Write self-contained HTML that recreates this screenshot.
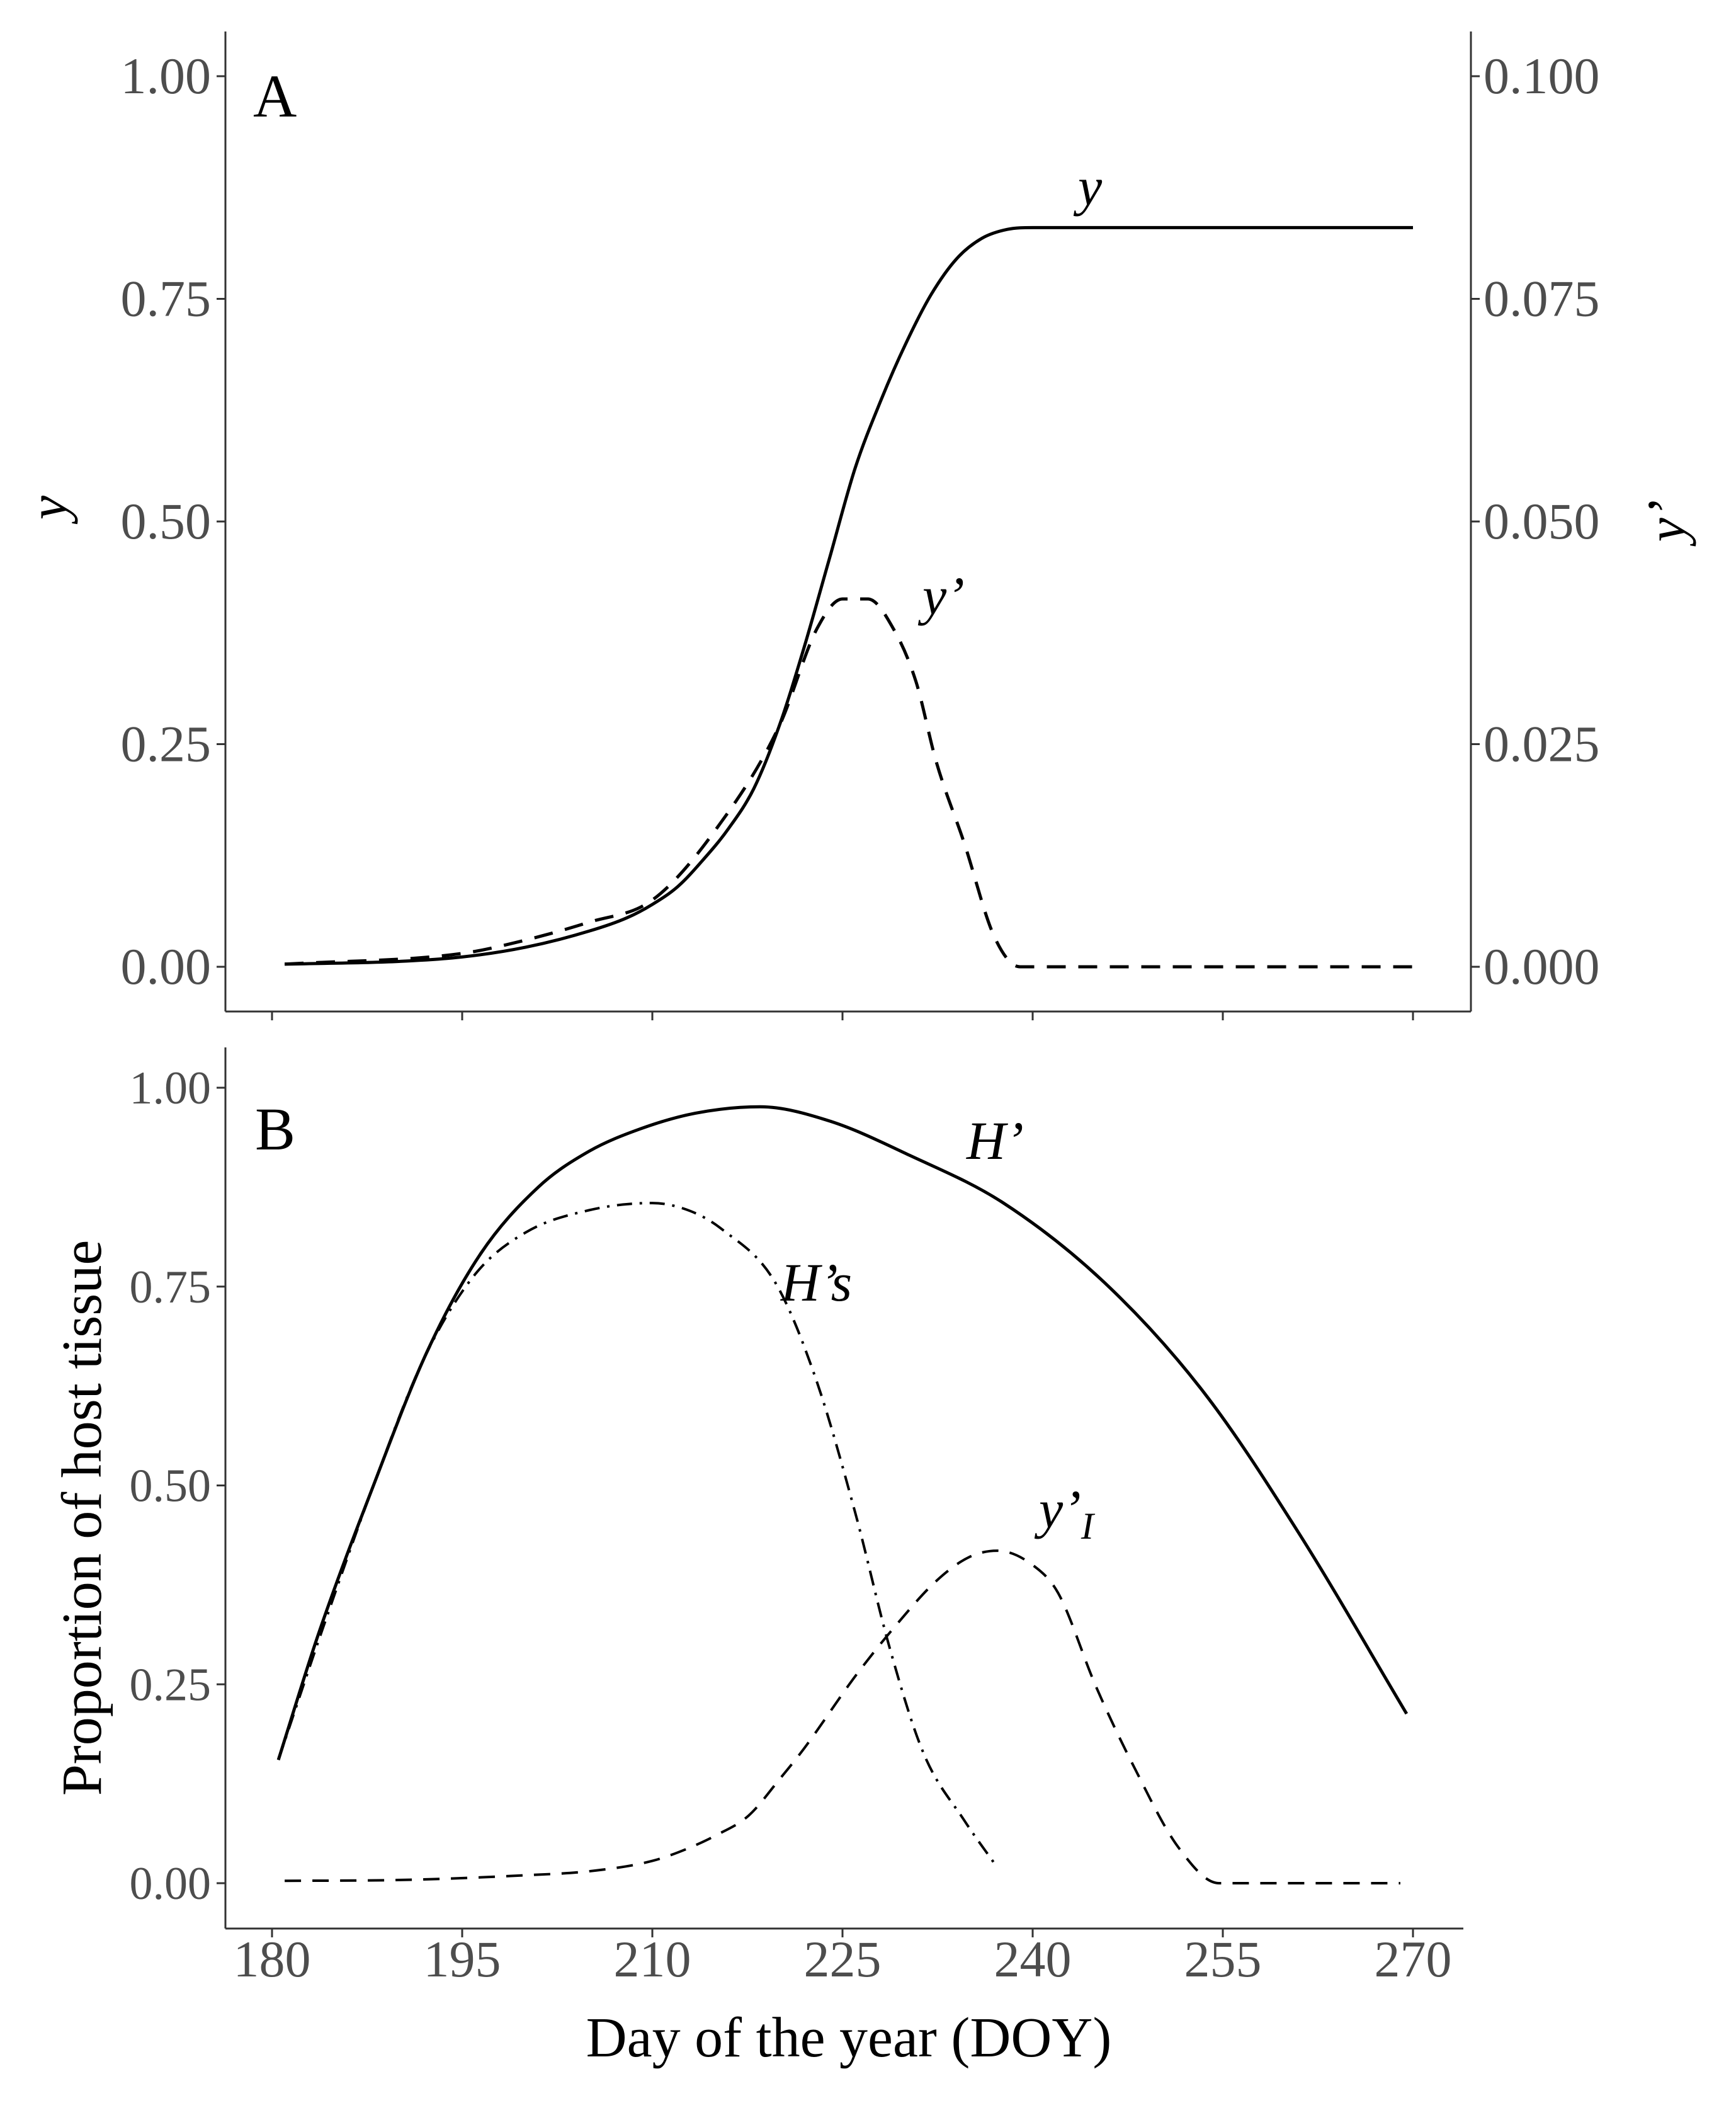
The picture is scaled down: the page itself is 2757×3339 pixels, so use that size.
<!DOCTYPE html>
<html><head><meta charset="utf-8"><style>
html,body{margin:0;padding:0;background:#fff;}
svg{display:block;font-family:"Liberation Serif",serif;}
</style></head><body>
<svg id="chart" width="2757" height="3339" viewBox="0 0 2757 3339">
<g id="axesA"></g>
<g id="axesB"></g>
</svg>
<script>
const doyA = [181,190,195,200,205,208,210,212,214,216,218,220,222,224,226,228,230,232,234,236,238,240,255,270];
const yA   = [0.003,0.006,0.011,0.022,0.04,0.055,0.07,0.09,0.12,0.155,0.2,0.27,0.36,0.46,0.56,0.635,0.70,0.755,0.795,0.818,0.828,0.83,0.83,0.83];
const doyYp = [181,195,200,205,210,215,220,223,225,227,229,230.8,232.4,234.6,237,239,255,270];
const yPrime = [0.0003,0.0015,0.003,0.005,0.0075,0.0154,0.027,0.038,0.0413,0.0413,0.038,0.032,0.023,0.0139,0.0033,0,0,0];
const doyH = [180.5,183.7,188,192.2,196.4,201,205,209,213.4,218.5,224,230.3,237.7,246,253.6,261,269.5];
const hPrime = [0.155,0.315,0.5,0.667,0.79,0.875,0.92,0.948,0.968,0.976,0.958,0.915,0.855,0.75,0.615,0.44,0.213];
const doyHs = [180.5,184,188,192,196,200,205,210,213,215.5,219.7,222.9,226,228.7,231.4,234.6,237.2];
const hS = [0.155,0.32,0.5,0.66,0.765,0.818,0.846,0.855,0.845,0.822,0.755,0.634,0.466,0.297,0.163,0.079,0.02];
const doyYI = [181,190,200,205,210,213,215,217.6,220,222,226,229,232.4,235,237.2,240,242,245,248,251.5,254.7,262,269];
const yI = [0.003,0.004,0.01,0.015,0.028,0.045,0.06,0.085,0.13,0.17,0.26,0.32,0.38,0.41,0.418,0.40,0.365,0.247,0.146,0.045,0,0,0];
const xTicks = [180,195,210,225,240,255,270];
const yTicksA = ["0.00","0.25","0.50","0.75","1.00"];
const yTicksA2 = ["0.000","0.025","0.050","0.075","0.100"];
const yTicksB = ["0.00","0.25","0.50","0.75","1.00"];

const NS="http://www.w3.org/2000/svg";
function mk(parent,tag,attrs,text){const e=document.createElementNS(NS,tag);for(const k in attrs)e.setAttribute(k,attrs[k]);if(text!==undefined)e.textContent=text;parent.appendChild(e);return e;}
const xS = d => 432 + (d-180)*(2244-432)/90;
const yA_S = v => 1535 - v*(1535-121);
const yA2_S = v => yA_S(v*10);
const yB_S = v => 2990 - v*(2990-1727);
function path(xs,ys,fx,fy){
  const X=xs.map(fx), Y=ys.map(fy), n=X.length;
  const d=[],m=new Array(n);
  for(let i=0;i<n-1;i++)d.push((Y[i+1]-Y[i])/(X[i+1]-X[i]));
  m[0]=d[0];m[n-1]=d[n-2];
  for(let i=1;i<n-1;i++){m[i]=(d[i-1]*d[i]<=0)?0:(d[i-1]+d[i])/2;}
  for(let i=0;i<n-1;i++){
    if(d[i]===0){m[i]=0;m[i+1]=0;continue;}
    const a=m[i]/d[i],b=m[i+1]/d[i],s=a*a+b*b;
    if(s>9){const t=3/Math.sqrt(s);m[i]=t*a*d[i];m[i+1]=t*b*d[i];}
  }
  let p='M'+X[0].toFixed(1)+','+Y[0].toFixed(1);
  for(let i=0;i<n-1;i++){
    const h=(X[i+1]-X[i])/3;
    p+=' C'+(X[i]+h).toFixed(1)+','+(Y[i]+m[i]*h).toFixed(1)+' '+(X[i+1]-h).toFixed(1)+','+(Y[i+1]-m[i+1]*h).toFixed(1)+' '+X[i+1].toFixed(1)+','+Y[i+1].toFixed(1);
  }
  return p;
}

const A=document.getElementById('axesA');
const B=document.getElementById('axesB');
let e;
e=mk(A,'line',{x1:358,y1:50,x2:358,y2:1606,stroke:'#333','stroke-width':3});


e=mk(A,'line',{x1:2336,y1:50,x2:2336,y2:1606,stroke:'#333','stroke-width':3});


e=mk(A,'line',{x1:358,y1:1606,x2:2336,y2:1606,stroke:'#333','stroke-width':3});


xTicks.forEach(t=>{
  e=mk(A,'line',{x1:xS(t),y1:1606,x2:xS(t),y2:1620,stroke:'#333','stroke-width':3});
  
  
});
yTicksA.forEach(t=>{
  const y=yA_S(parseFloat(t));
  e=mk(A,'line',{x1:344,y1:y,x2:358,y2:y,stroke:'#333','stroke-width':3});
  
  
  e=mk(A,'text',{x:335,y:y+27,'font-size':82,'text-anchor':'end',fill:'#4d4d4d'},t);
  
  
});
yTicksA2.forEach(t=>{
  const y=yA2_S(parseFloat(t));
  e=mk(A,'line',{x1:2336,y1:y,x2:2350,y2:y,stroke:'#333','stroke-width':3});
  
  
  e=mk(A,'text',{x:2356,y:y+27,'font-size':82,'text-anchor':'start',fill:'#4d4d4d'},t);
  
  
});
e=mk(A,'text',{x:0,y:0,'font-size':86,'font-style':'italic','text-anchor':'middle',transform:'translate(105,806) rotate(-90)'},'y');


e=mk(A,'text',{x:0,y:0,'font-size':86,'font-style':'italic','text-anchor':'middle',transform:'translate(2675,827) rotate(-90)'},'y’');


e=mk(A,'text',{x:402,y:185,'font-size':96},'A');


e=mk(A,'path',{d:path(doyA,yA,xS,yA_S),fill:'none',stroke:'#000','stroke-width':5});


e=mk(A,'path',{d:path(doyYp,yPrime,xS,yA2_S),fill:'none',stroke:'#000','stroke-width':5,'stroke-dasharray':'30,20'});


e=mk(A,'text',{x:1712,y:325,'font-size':86,'font-style':'italic'},'y');


e=mk(A,'text',{x:1465,y:975,'font-size':86,'font-style':'italic'},'y’');



e=mk(B,'line',{x1:358,y1:1663,x2:358,y2:3062,stroke:'#333','stroke-width':3});


e=mk(B,'line',{x1:358,y1:3062,x2:2324,y2:3062,stroke:'#333','stroke-width':3});


xTicks.forEach(t=>{
  e=mk(B,'line',{x1:xS(t),y1:3062,x2:xS(t),y2:3076,stroke:'#333','stroke-width':3});
  
  
  e=mk(B,'text',{x:xS(t),y:3138,'font-size':82,'text-anchor':'middle',fill:'#4d4d4d'},t);
  
  
});
yTicksB.forEach(t=>{
  const y=yB_S(parseFloat(t));
  e=mk(B,'line',{x1:344,y1:y,x2:358,y2:y,stroke:'#333','stroke-width':3});
  
  
  e=mk(B,'text',{x:335,y:y+25,'font-size':74,'text-anchor':'end',fill:'#4d4d4d'},t);
  
  
});
e=mk(B,'text',{x:0,y:0,'font-size':90,'text-anchor':'middle',transform:'translate(160,2410) rotate(-90)'},'Proportion of host tissue');


e=mk(B,'text',{x:1348,y:3265,'font-size':90,'text-anchor':'middle'},'Day of the year (DOY)');


e=mk(B,'text',{x:405,y:1825,'font-size':96},'B');


e=mk(B,'path',{d:path(doyH,hPrime,xS,yB_S),fill:'none',stroke:'#000','stroke-width':5});


e=mk(B,'path',{d:path(doyHs,hS,xS,yB_S),fill:'none',stroke:'#000','stroke-width':4,'stroke-dasharray':'24,12,4,12'});


e=mk(B,'path',{d:path(doyYI,yI,xS,yB_S),fill:'none',stroke:'#000','stroke-width':4,'stroke-dasharray':'26,18'});


e=mk(B,'text',{x:1535,y:1840,'font-size':86,'font-style':'italic'},'H’');


e=mk(B,'text',{x:1240,y:2065,'font-size':86,'font-style':'italic'},'H’s');


const lab=mk(B,'text',{x:1650,y:2425,'font-size':86,'font-style':'italic'},'y’');


e=mk(lab,'tspan',{dy:18,'font-size':60},'I');


</script>
</body></html>
